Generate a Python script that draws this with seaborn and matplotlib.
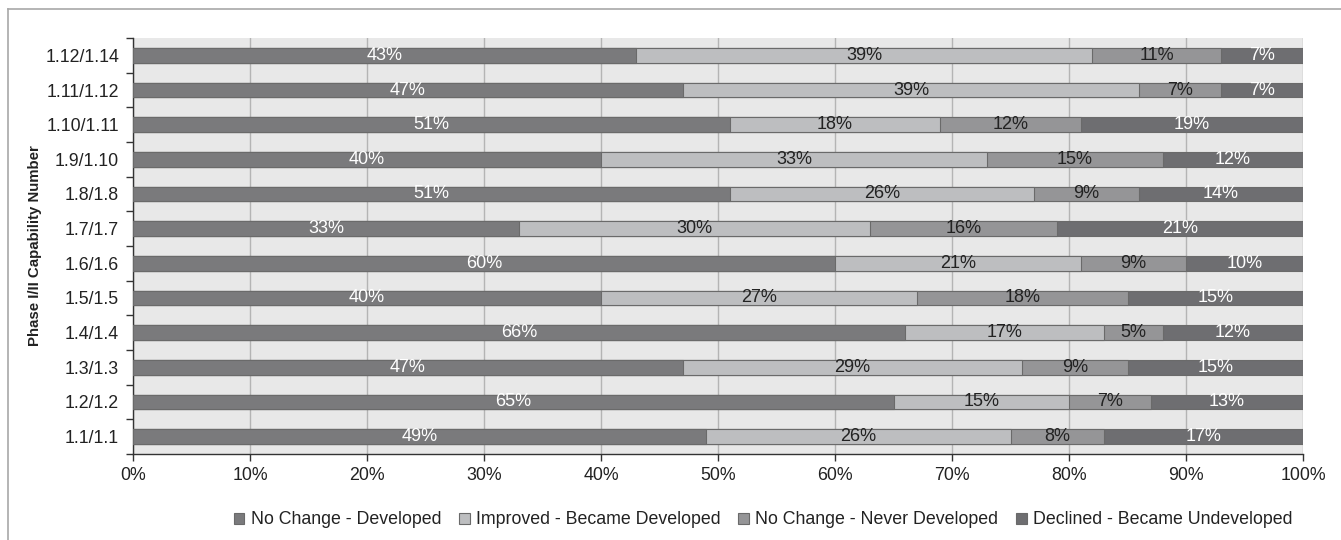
import matplotlib
matplotlib.use("Agg")
import matplotlib.pyplot as plt
import numpy as np
import pandas as pd
import seaborn as sns
from matplotlib.patches import Patch
from matplotlib.lines import Line2D
from matplotlib.ticker import FixedLocator

# Capabilities listed top to bottom
capabilities = ["1.12/1.14", "1.11/1.12", "1.10/1.11", "1.9/1.10", "1.8/1.8", "1.7/1.7",
                "1.6/1.6", "1.5/1.5", "1.4/1.4", "1.3/1.3", "1.2/1.2", "1.1/1.1"]

no_change_developed = [43, 47, 51, 40, 51, 33, 60, 40, 66, 47, 65, 49]
improved_developed = [39, 39, 18, 33, 26, 30, 21, 27, 17, 29, 15, 26]
no_change_never = [11, 7, 12, 15, 9, 16, 9, 18, 5, 9, 7, 8]
declined_undeveloped = [7, 7, 19, 12, 14, 21, 10, 15, 12, 15, 13, 17]

series_names = ["No Change - Developed", "Improved - Became Developed",
                "No Change - Never Developed", "Declined - Became Undeveloped"]
series_colors = ["#7a7a7c", "#bdbec0", "#959597", "#6e6e71"]
label_colors = ["white", "#222222", "#222222", "white"]
x_ticks = list(range(0, 101, 10))

plt.rcParams["font.family"] = ["Liberation Sans", "DejaVu Sans"]

series = [no_change_developed, improved_developed, no_change_never, declined_undeveloped]
df = pd.DataFrame({"capability": capabilities})
cum = np.zeros(len(capabilities))
starts = []
for name, vals in zip(series_names, series):
    starts.append(cum.copy())
    cum = cum + np.array(vals)
    df[name] = cum

fig = plt.figure(figsize=(13.41, 5.40), dpi=100)
ax = fig.add_axes([133 / 1341, 1 - 454 / 540, (1303 - 133) / 1341, (454 - 38) / 540])
ax.set_facecolor("#e8e8e8")

# Stacked bars: draw cumulative totals from the outermost layer inwards
for name, color in reversed(list(zip(series_names, series_colors))):
    sns.barplot(data=df, x=name, y="capability", order=capabilities, orient="h",
                color=color, saturation=1, width=0.43, errorbar=None,
                edgecolor="#6a6a6a", linewidth=0.8, ax=ax, zorder=3)

# Percentage labels centred on each segment
for k, (vals, start) in enumerate(zip(series, starts)):
    for i, v in enumerate(vals):
        ax.text(start[i] + v / 2, i, f"{v}%", ha="center", va="center",
                fontsize=13, color=label_colors[k], zorder=5)

ax.set_xlim(0, 100)
ax.set_ylim(len(capabilities) - 0.5, -0.5)
ax.xaxis.set_major_locator(FixedLocator(x_ticks))
ax.set_xticklabels([f"{t}%" for t in x_ticks])
ax.grid(axis="x", color="#b4b4b4", linewidth=1, zorder=0)
ax.grid(axis="y", visible=False)
ax.set_axisbelow(True)

ax.yaxis.set_minor_locator(FixedLocator(np.arange(-0.5, len(capabilities), 1.0)))
ax.tick_params(axis="y", which="major", length=0, pad=10, labelsize=12.8, labelcolor="#222222")
ax.tick_params(axis="y", which="minor", length=5, width=1, color="#333333", direction="out")
ax.tick_params(axis="x", which="major", length=5, width=1, color="#333333",
               direction="out", labelsize=12.8, labelcolor="#222222", pad=4)

for side in ["top", "right"]:
    ax.spines[side].set_visible(False)
for side in ["left", "bottom"]:
    ax.spines[side].set_color("#333333")
    ax.spines[side].set_linewidth(1)

ax.set_xlabel("")
ax.set_ylabel("Phase I/II Capability Number", fontsize=10.8, fontweight="bold",
              color="#222222")
ax.yaxis.set_label_coords((42 - 133) / (1303 - 133), 0.5)

handles = [Patch(facecolor=c, edgecolor="#6a6a6a", linewidth=0.8) for c in series_colors]
fig.legend(handles, series_names, loc="center", bbox_to_anchor=(763 / 1341, 1 - 520 / 540),
           ncol=4, frameon=False, fontsize=12.8, handlelength=0.6, handleheight=0.6,
           handletextpad=0.35, columnspacing=1.0, labelcolor="#222222")

# Outer frame lines along the top and left edges
fig.add_artist(Line2D([8 / 1341, 1.0], [1 - 9 / 540, 1 - 9 / 540], transform=fig.transFigure,
                      color="#a8a8a8", linewidth=1.2))
fig.add_artist(Line2D([8 / 1341, 8 / 1341], [0.0, 1 - 9 / 540], transform=fig.transFigure,
                      color="#a8a8a8", linewidth=1.2))

fig.savefig("out.png", dpi=100, facecolor="white")
